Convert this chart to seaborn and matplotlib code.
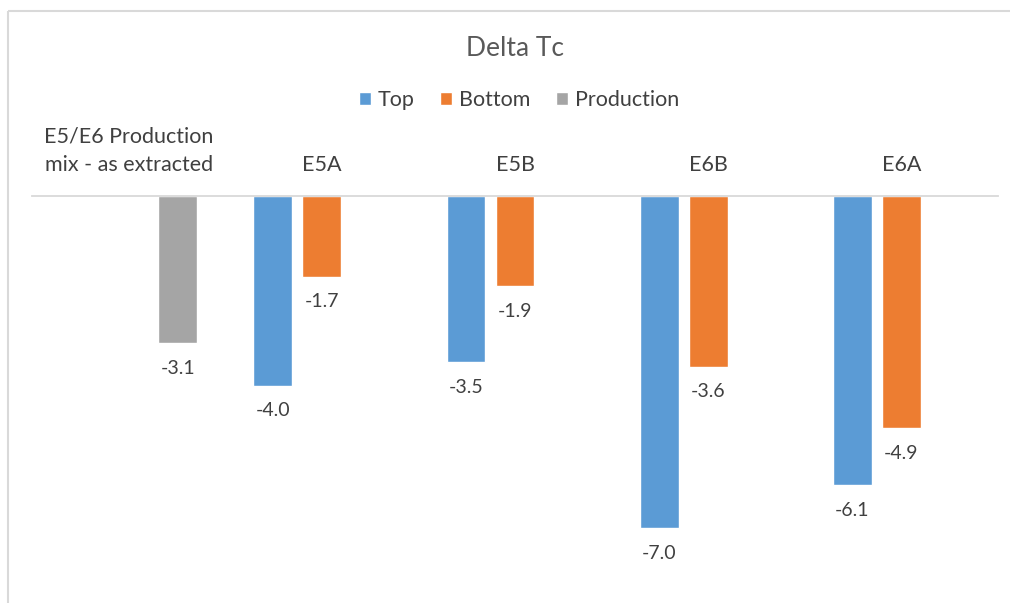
import numpy as np
import pandas as pd
import seaborn as sns
import matplotlib.pyplot as plt
from matplotlib.lines import Line2D

categories = ["E5/E6 Production\nmix - as extracted", "E5A", "E5B", "E6B", "E6A"]
series = ["Top", "Bottom", "Production"]
top = [np.nan, -4.0, -3.5, -7.0, -6.1]
bottom = [np.nan, -1.7, -1.9, -3.6, -4.9]
production = [-3.1, np.nan, np.nan, np.nan, np.nan]

colors = {"Top": "#5B9BD5", "Bottom": "#ED7D31", "Production": "#A5A5A5"}

df = pd.DataFrame({
    "Sample": categories * 3,
    "Series": ["Top"] * 5 + ["Bottom"] * 5 + ["Production"] * 5,
    "Delta": top + bottom + production,
}).dropna()

sns.set_style("white")
plt.rcParams['font.family'] = ['Lato', 'DejaVu Sans']

fig = plt.figure(figsize=(10.1, 6.03), dpi=100)
ax = fig.add_axes([32 / 1010, 13 / 603, 966 / 1010, 394 / 603])

sns.barplot(x='Sample', y='Delta', hue='Series', data=df, order=categories,
            hue_order=series, palette=colors, errorbar=None, width=0.762,
            gap=0.21, saturation=1, ax=ax)

for cont in ax.containers:
    ax.bar_label(cont, fmt='%.1f', padding=12, fontsize=14, color='#404040')

ax.set_xlim(-0.5, 4.5)
ax.set_ylim(-8.31, 0)
ax.xaxis.tick_top()
ax.tick_params(axis='x', length=0, pad=15, labelsize=15.5, colors='#404040')
for t in ax.get_xticklabels():
    t.set_linespacing(1.55)
ax.set_yticks([])
ax.set_xlabel('')
ax.set_ylabel('')
for s in ['left', 'right', 'bottom']:
    ax.spines[s].set_visible(False)
ax.spines['top'].set_color('#d9d9d9')
ax.spines['top'].set_linewidth(1.3)

sns.move_legend(ax, loc='center', bbox_to_anchor=(519 / 1010, 1 - 100 / 603),
                bbox_transform=fig.transFigure, ncol=3, frameon=False, title=None,
                fontsize=15.5, handlelength=0.56, handleheight=0.56,
                handletextpad=0.3, columnspacing=1.2)
for t in ax.get_legend().get_texts():
    t.set_color('#404040')

fig.text(515 / 1010, 1 - 48 / 603, 'Delta Tc', ha='center', va='center',
         fontsize=19, color='#595959')

# chart frame (left and top edge visible)
fig.add_artist(Line2D([8 / 1010, 8 / 1010], [0, 1 - 11 / 603],
                      transform=fig.transFigure, color='#d9d9d9', lw=1.5,
                      solid_capstyle='butt'))
fig.add_artist(Line2D([8 / 1010, 1], [1 - 11 / 603, 1 - 11 / 603],
                      transform=fig.transFigure, color='#d9d9d9', lw=1.5,
                      solid_capstyle='butt'))

plt.savefig('out.png', dpi=100)
